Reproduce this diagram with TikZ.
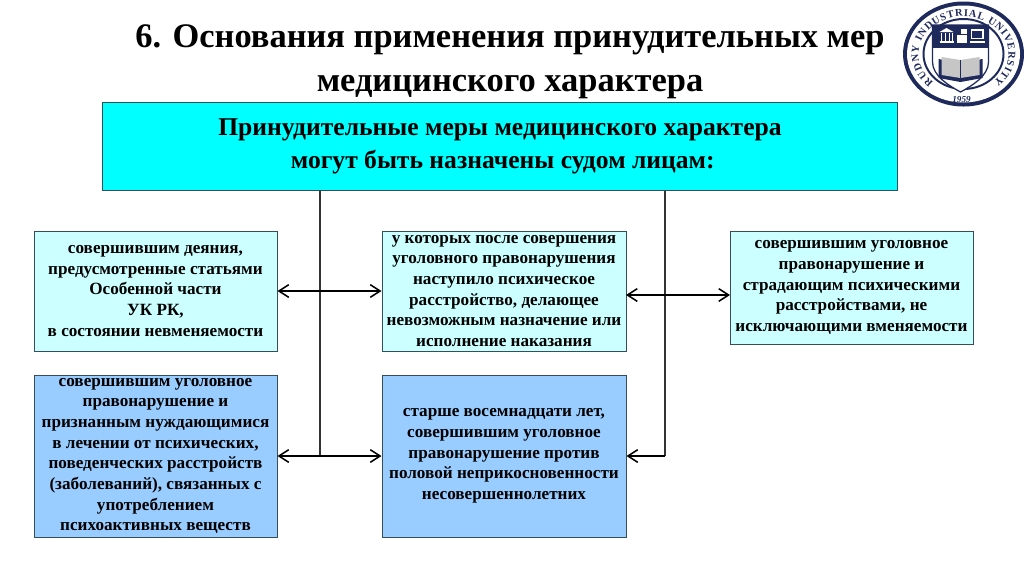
\documentclass[tikz,border=0pt]{standalone}
\usepackage{fontspec}
\setmainfont{Liberation Serif}
\usetikzlibrary{arrows.meta,decorations.text}
\definecolor{navy}{HTML}{1F2A5C}
\definecolor{topcyan}{HTML}{00FFFF}
\definecolor{palecyan}{HTML}{CCFFFF}
\definecolor{paleblue}{HTML}{99CCFF}
\definecolor{edgeline}{HTML}{33505A}
\begin{document}
\begin{tikzpicture}[
  x=0.025cm, y=0.025cm,
  title/.style={align=center, font=\fontsize{24.5}{31.5}\selectfont\bfseries, inner sep=0pt},
  head/.style={draw=edgeline, fill=topcyan, line width=0.7pt, align=center, minimum width=795*0.025cm, minimum height=88*0.025cm, inner sep=0pt, font=\fontsize{18.2}{24}\selectfont\bfseries, execute at begin node=\rule{0pt}{21.5pt}},
  box/.style={draw=edgeline, line width=0.7pt, align=center, inner sep=0pt, font=\fontsize{12.2}{14.7}\selectfont\bfseries, execute at begin node=\rule{0pt}{13pt}},
  lightbox/.style={box, fill=palecyan},
  bluebox/.style={box, fill=paleblue},
  arr/.style={{Straight Barb[length=7pt,width=9pt]}-{Straight Barb[length=7pt,width=9pt]}, line width=1.1pt},
  oneway/.style={-{Straight Barb[length=7pt,width=9pt]}, line width=1.1pt},
  trunk/.style={line width=1pt, draw=black!80}
]
\useasboundingbox (0,0) rectangle (1024,-574);
\node[title] (heading) at (510,-62) {6. Основания применения принудительных мер\\медицинского характера};
\node[head] (top) at (500,-146.5) {Принудительные меры медицинского характера\\\hspace*{4pt}могут быть назначены судом лицам:};

\node[lightbox, minimum width=243*0.025cm, minimum height=120*0.025cm] (insane) at (155.5,-291) {совершившим деяния,\\предусмотренные статьями\\Особенной части\\УК РК,\\в состоянии невменяемости};
\node[lightbox, minimum width=244*0.025cm, minimum height=120*0.025cm] (after) at (504,-291) {у которых после совершения\\уголовного правонарушения\\наступило психическое\\расстройство, делающее\\невозможным назначение или\\исполнение наказания};
\node[lightbox, minimum width=243*0.025cm, minimum height=113*0.025cm] (sane) at (851.5,-287.5) {совершившим уголовное\\правонарушение и\\страдающим психическими\\расстройствами, не\\исключающими вменяемости};
\node[bluebox, minimum width=243*0.025cm, minimum height=162*0.025cm] (addict) at (155.5,-456) {совершившим уголовное\\правонарушение и\\признанным нуждающимися\\в лечении от психических,\\поведенческих расстройств\\(заболеваний), связанных с\\употреблением\\психоактивных веществ};
\node[bluebox, minimum width=244*0.025cm, minimum height=162*0.025cm] (adult) at (504,-456) {старше восемнадцати лет,\\совершившим уголовное\\правонарушение против\\половой неприкосновенности\\несовершеннолетних};

% free ends of the trunks
\coordinate (ltop) at (320,-190.5);
\coordinate (lend) at (320,-456);
\coordinate (rtop) at (665,-190.5);
\coordinate (rend) at (665,-456);
\coordinate (rowl) at (626,-295);
\coordinate (rowr) at (730,-295);

\draw[trunk] (ltop) -- (lend);
\draw[trunk] (rtop) -- (rend);
\draw[arr] (insane.east) -- (after.west);
\draw[arr] (rowl) -- (rowr);
\draw[arr] (addict.east) -- (adult.west);
\draw[oneway] (rend) -- (adult.east);

% emblem
\begin{scope}[shift={(963.5,-54)}]
  \fill[navy] (0,0) ellipse [x radius=60.5, y radius=52.5];
  \fill[white] (0,0) ellipse [x radius=56.5, y radius=48.5];
  \draw[navy, line width=1.4pt] (0,0) ellipse [x radius=40, y radius=35];
  \path[postaction={decorate, decoration={text along path, text align=fit to path,
    text={|\fontsize{7.4}{8}\selectfont\bfseries\color{navy}|RUDNY INDUSTRIAL UNIVERSITY}}}]
    (0,0) ++(228:45 and 37.5) arc[start angle=228, end angle=-48, x radius=45, y radius=37.5];
  \node[inner sep=0pt, text=navy, font=\fontsize{6.5}{7}\selectfont\bfseries\itshape] (year) at (-2,-46) {1959};
  % shield
  \fill[white] (-31,29) -- (25,29) -- (25,-8) .. controls (25,-22) and (8,-32) .. (-3,-38) .. controls (-14,-32) and (-31,-22) .. (-31,-8) -- cycle;
  \draw[navy, line width=0.9pt] (-31,29) -- (25,29) -- (25,-8) .. controls (25,-22) and (8,-32) .. (-3,-38) .. controls (-14,-32) and (-31,-22) .. (-31,-8) -- cycle;
  \fill[navy] (-31,29) rectangle (25,6);
  % icons
  \fill[white] (-24,22) -- (-17,26) -- (-10,22) -- cycle;
  \fill[white] (-24,11) rectangle (-10,13);
  \foreach \px in {-23,-19,-15,-12}{\fill[white] (\px,13) rectangle (\px+1.8,21);}
  \fill[white] (-7,11) rectangle (3,19);
  \fill[white] (-3,20) rectangle (3,25);
  \fill[white] (7,15) rectangle (20,25);
  \fill[navy] (8.5,16.5) rectangle (18.5,23.5);
  \fill[white] (6,11) rectangle (21,13);
  % book
  \fill[navy] (-25,-5) -- (-3,-9) -- (19,-5) -- (19,-24) -- (-3,-28) -- (-25,-24) -- cycle;
  \fill[gray!45] (-22,-3) -- (-3,-6) -- (16,-3) -- (16,-21) -- (-3,-24) -- (-22,-21) -- cycle;
  \draw[navy, line width=0.6pt] (-3,-6) -- (-3,-24);
\end{scope}
\end{tikzpicture}
\end{document}
